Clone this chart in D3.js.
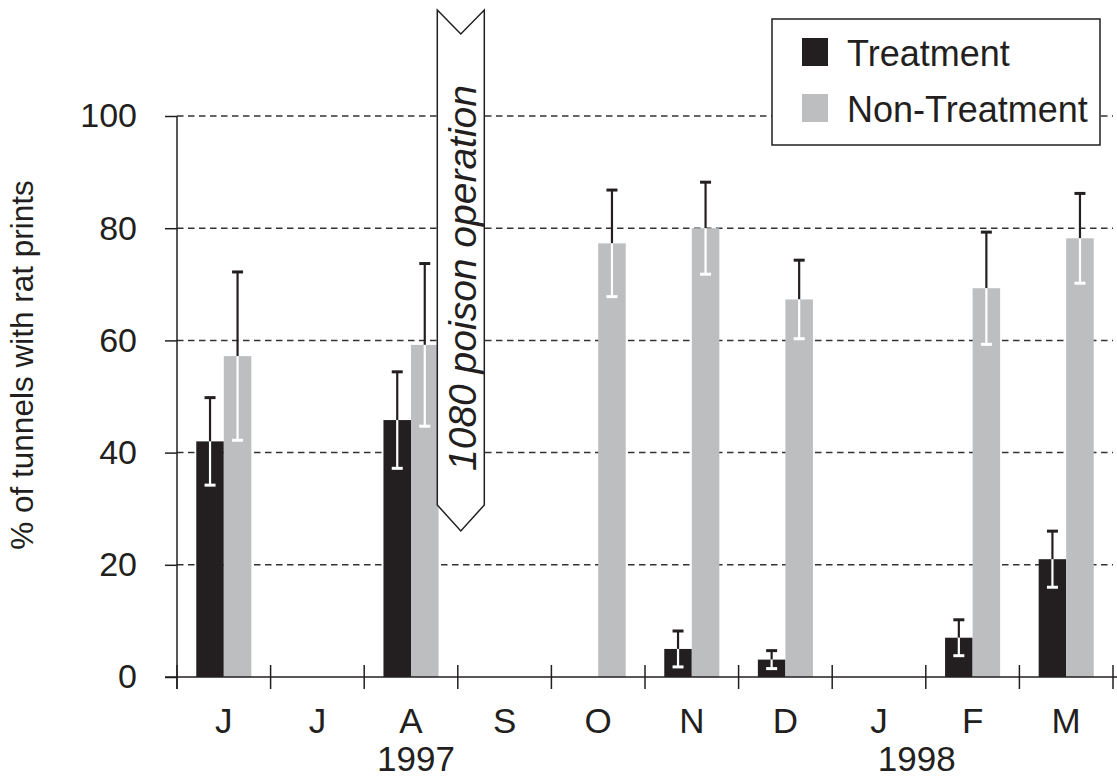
<!DOCTYPE html>
<html><head><meta charset="utf-8">
<script src="https://cdn.jsdelivr.net/npm/d3@7"></script>
<style>
body{margin:0;background:#fff}
text{font-family:"Liberation Sans",Arial,Helvetica,sans-serif;fill:#231f20}
</style>
</head><body>
<svg id="c" width="1117" height="778"></svg>
<script>
// ---- data ----
const months = ["Jun97","Jul97","Aug97","Sep97","Oct97","Nov97","Dec97","Jan98","Feb98","Mar98"];
const monthLabels = ["J","J","A","S","O","N","D","J","F","M"];
const series = ["Treatment","Non-Treatment"];
const treatment = [42, null, 45.8, null, null, 5, 3.1, null, 7, 21];
const treatmentErr = [7.8, null, 8.6, null, null, 3.2, 1.6, null, 3.2, 5];
const nonTreatment = [57.2, null, 59.2, null, 77.3, 80, 67.3, null, 69.3, 78.2];
const nonTreatmentErr = [15, null, 14.5, null, 9.5, 8.2, 7, null, 10, 8];
const yTicks = [0, 20, 40, 60, 80, 100];
const years = ["1997", "1998"];
const annotationText = "1080 poison operation";
const yTitle = "% of tunnels with rat prints";

// ---- layout ----
const L = 177, R = 1113, T = 116, B = 677;
const colors = {"Treatment":"#231f20","Non-Treatment":"#bcbec0"};
const ink = "#231f20";

const svg = d3.select("#c");
const x = d3.scaleBand().domain(months).range([L, R]).padding(0);
const bw = x.bandwidth();
const x1 = d3.scaleBand().domain(series).range([0, bw]).paddingInner(0).paddingOuter(0.7);
const y = d3.scaleLinear().domain([0, 100]).range([B, T]);

// gridlines
svg.append("g").selectAll("line").data(yTicks.filter(d => d > 0)).join("line")
  .attr("x1", L).attr("x2", R).attr("y1", d => y(d)).attr("y2", d => y(d))
  .attr("stroke", "#333").attr("stroke-width", 1.5).attr("stroke-dasharray", "6.5,4.5");

// rows
const rows = months.map((m, i) => ({
  m,
  vals: [
    {s: "Treatment", v: treatment[i], e: treatmentErr[i]},
    {s: "Non-Treatment", v: nonTreatment[i], e: nonTreatmentErr[i]}
  ].filter(d => d.v != null)
}));

const grp = svg.append("g").selectAll("g").data(rows).join("g")
  .attr("transform", d => `translate(${x(d.m)},0)`);

grp.selectAll("rect").data(d => d.vals).join("rect")
  .attr("x", d => x1(d.s)).attr("width", x1.bandwidth())
  .attr("y", d => y(d.v)).attr("height", d => y(0) - y(d.v))
  .attr("fill", d => colors[d.s]);

// error bars: upper black, lower white
const eb = grp.selectAll("g.eb").data(d => d.vals).join("g").attr("class", "eb")
  .attr("transform", d => `translate(${x1(d.s) + x1.bandwidth() / 2},0)`);
eb.append("line").attr("x1", 0).attr("x2", 0)
  .attr("y1", d => y(d.v)).attr("y2", d => y(d.v + d.e))
  .attr("stroke", ink).attr("stroke-width", 2.2);
eb.append("line").attr("x1", -5.5).attr("x2", 5.5)
  .attr("y1", d => y(d.v + d.e)).attr("y2", d => y(d.v + d.e))
  .attr("stroke", ink).attr("stroke-width", 3);
eb.append("line").attr("x1", 0).attr("x2", 0)
  .attr("y1", d => y(d.v)).attr("y2", d => y(d.v - d.e))
  .attr("stroke", "#fff").attr("stroke-width", 2.2);
eb.append("line").attr("x1", -5.5).attr("x2", 5.5)
  .attr("y1", d => y(d.v - d.e)).attr("y2", d => y(d.v - d.e))
  .attr("stroke", "#fff").attr("stroke-width", 3);

// x axis line and boundary ticks
svg.append("line").attr("x1", L - 12).attr("x2", 1117).attr("y1", B).attr("y2", B)
  .attr("stroke", ink).attr("stroke-width", 1.5);
const bounds = months.map(m => x(m)).concat([x.range()[1]]);
svg.append("g").selectAll("line").data(bounds).join("line")
  .attr("x1", d => d).attr("x2", d => d).attr("y1", B - 12).attr("y2", B + 12)
  .attr("stroke", ink).attr("stroke-width", 1.5);

// month labels
const xa = svg.append("g").attr("transform", `translate(0,${B})`)
  .call(d3.axisBottom(x).tickSize(0).tickPadding(31).tickFormat((d, i) => monthLabels[i]));
xa.select(".domain").remove();
xa.selectAll("text").style("font-size", "35px").attr("fill", ink)
  .style("font-family", '"Liberation Sans",Arial,sans-serif');

// years
svg.append("text").attr("x", x("Aug97") + bw / 2 + 5).attr("y", 771).attr("text-anchor", "middle")
  .style("font-size", "35px").text(years[0]);
svg.append("text").attr("x", x("Feb98") - 9).attr("y", 771).attr("text-anchor", "middle")
  .style("font-size", "35px").text(years[1]);

// y axis
svg.append("line").attr("x1", L).attr("x2", L).attr("y1", T).attr("y2", B + 12)
  .attr("stroke", ink).attr("stroke-width", 1.5);
const ya = svg.append("g").attr("transform", `translate(${L},0)`)
  .call(d3.axisLeft(y).tickValues(yTicks).tickSize(12).tickPadding(28));
ya.select(".domain").remove();
ya.selectAll("line").attr("stroke", ink).attr("stroke-width", 1.5);
ya.selectAll("text").style("font-size", "34px").attr("fill", ink)
  .style("font-family", '"Liberation Sans",Arial,sans-serif');

// y title
svg.append("text").attr("transform", "translate(33,365) rotate(-90)").attr("text-anchor", "middle")
  .style("font-size", "31.5px").text(yTitle);

// annotation pennant
const px = x("Sep97"), cx = px + 3;
const pen = d3.path();
pen.moveTo(cx - 23.5, 10); pen.lineTo(cx, 34); pen.lineTo(cx + 23.5, 10);
pen.lineTo(cx + 23.5, 505); pen.lineTo(cx, 531); pen.lineTo(cx - 23.5, 505); pen.closePath();
svg.append("path").attr("d", pen.toString()).attr("fill", "#fff")
  .attr("stroke", ink).attr("stroke-width", 1.5).attr("stroke-linejoin", "miter");
svg.append("text").attr("transform", `translate(${cx + 15},278) rotate(-90)`)
  .attr("text-anchor", "middle").style("font-size", "39px").style("font-style", "italic")
  .text(annotationText);

// legend
const lg = svg.append("g");
lg.append("rect").attr("x", 772).attr("y", 19).attr("width", 328).attr("height", 126)
  .attr("fill", "#fff").attr("stroke", ink).attr("stroke-width", 1.5);
const li = lg.selectAll("g").data(series).join("g")
  .attr("transform", (d, i) => `translate(802,${38 + i * 56})`);
li.append("rect").attr("width", 26).attr("height", 28).attr("fill", d => colors[d]);
li.append("text").attr("x", 45).attr("y", 28).style("font-size", "36px").text(d => d);
</script>
</body></html>
